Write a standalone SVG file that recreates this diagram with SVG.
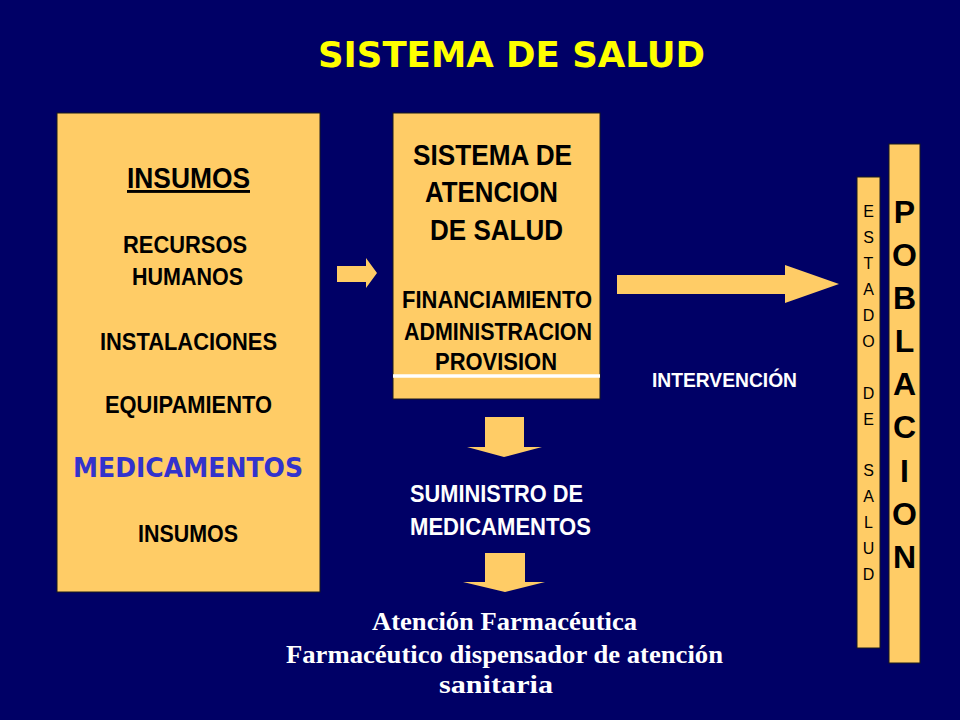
<svg xmlns="http://www.w3.org/2000/svg" width="960" height="720" viewBox="0 0 960 720">
  <style>
    .box { fill: #FFCC66; stroke: #1a1a1a; stroke-width: 1; }
    .arrow { fill: #FFCC66; }
    .t { font-family: "Liberation Sans", Arial, sans-serif; font-weight: bold; fill: #000; text-anchor: middle; }
    .v { font-family: "Liberation Sans", Arial, sans-serif; fill: #000; text-anchor: middle; font-size: 16px; }
    .w { font-family: "Liberation Sans", Arial, sans-serif; font-weight: bold; fill: #FFFFFF; }
    .serif { font-family: "Liberation Serif", "Times New Roman", serif; font-weight: bold; fill: #FFFFFF; text-anchor: middle; font-size: 26px; }
    .comic { font-family: "DejaVu Sans", "Liberation Sans", sans-serif; font-weight: bold; }
  </style>
  <rect x="0" y="0" width="960" height="720" fill="#000066"/>

  <g id="title">
    <text class="comic" x="318" y="67" font-size="36" fill="#FFFF00" textLength="387" lengthAdjust="spacingAndGlyphs">SISTEMA DE SALUD</text>
  </g>

  <g id="insumos">
    <rect class="box" x="57" y="113" width="263" height="479"/>
    <text class="t" x="188.5" y="188" font-size="29" textLength="123" lengthAdjust="spacingAndGlyphs" text-decoration="underline">INSUMOS</text>
    <text class="t" x="185" y="253" font-size="23" textLength="124" lengthAdjust="spacingAndGlyphs">RECURSOS</text>
    <text class="t" x="187.5" y="285" font-size="23" textLength="111" lengthAdjust="spacingAndGlyphs">HUMANOS</text>
    <text class="t" x="188.5" y="350" font-size="23" textLength="177" lengthAdjust="spacingAndGlyphs">INSTALACIONES</text>
    <text class="t" x="188.5" y="413" font-size="23" textLength="167" lengthAdjust="spacingAndGlyphs">EQUIPAMIENTO</text>
    <text class="comic" x="73" y="477" font-size="27" fill="#3333CC" textLength="230" lengthAdjust="spacingAndGlyphs">MEDICAMENTOS</text>
    <text class="t" x="188" y="542" font-size="23" textLength="100" lengthAdjust="spacingAndGlyphs">INSUMOS</text>
  </g>

  <g id="sistema-atencion">
    <rect class="box" x="393" y="113" width="207" height="286"/>
    <text class="t" x="492.5" y="165" font-size="30" textLength="159" lengthAdjust="spacingAndGlyphs">SISTEMA DE</text>
    <text class="t" x="491.5" y="202" font-size="30" textLength="133" lengthAdjust="spacingAndGlyphs">ATENCION</text>
    <text class="t" x="496.5" y="240" font-size="30" textLength="133" lengthAdjust="spacingAndGlyphs">DE SALUD</text>
    <text class="t" x="497" y="308" font-size="23" textLength="190" lengthAdjust="spacingAndGlyphs">FINANCIAMIENTO</text>
    <text class="t" x="498" y="340" font-size="23" textLength="188" lengthAdjust="spacingAndGlyphs">ADMINISTRACION</text>
    <text class="t" x="496" y="370" font-size="23" textLength="122" lengthAdjust="spacingAndGlyphs">PROVISION</text>
    <line x1="393" y1="376" x2="600" y2="376" stroke="#FFFFFF" stroke-width="3.5"/>
  </g>

  <g id="estado-de-salud">
    <rect class="box" x="857" y="177" width="23" height="471"/>
    <g class="v">
      <text x="868.5" y="217">E</text>
      <text x="868.5" y="243">S</text>
      <text x="868.5" y="269">T</text>
      <text x="868.5" y="295">A</text>
      <text x="868.5" y="321">D</text>
      <text x="868.5" y="347">O</text>
      <text x="868.5" y="399">D</text>
      <text x="868.5" y="425">E</text>
      <text x="868.5" y="476">S</text>
      <text x="868.5" y="502">A</text>
      <text x="868.5" y="528">L</text>
      <text x="868.5" y="554">U</text>
      <text x="868.5" y="580">D</text>
    </g>
  </g>

  <g id="poblacion">
    <rect class="box" x="889" y="144" width="31" height="519"/>
    <g class="t" font-size="32">
      <text x="904.5" y="223">P</text>
      <text x="904.5" y="266">O</text>
      <text x="904.5" y="309">B</text>
      <text x="904.5" y="352">L</text>
      <text x="904.5" y="395">A</text>
      <text x="904.5" y="438">C</text>
      <text x="904.5" y="482">I</text>
      <text x="904.5" y="525">O</text>
      <text x="904.5" y="568">N</text>
    </g>
  </g>

  <g id="suministro">
    <text class="w" x="410" y="502" font-size="23" textLength="173" lengthAdjust="spacingAndGlyphs">SUMINISTRO DE</text>
    <text class="w" x="410" y="535" font-size="23" textLength="181" lengthAdjust="spacingAndGlyphs">MEDICAMENTOS</text>
  </g>

  <g id="intervencion">
    <text class="w" x="652" y="387" font-size="20.5" textLength="145" lengthAdjust="spacingAndGlyphs">INTERVENCIÓN</text>
  </g>

  <g id="atencion-farmaceutica">
    <text class="serif" x="504.5" y="630" textLength="265" lengthAdjust="spacingAndGlyphs">Atención Farmacéutica</text>
    <text class="serif" x="504.5" y="663" textLength="437" lengthAdjust="spacingAndGlyphs">Farmacéutico dispensador de atención</text>
    <text class="serif" x="496" y="693" textLength="114" lengthAdjust="spacingAndGlyphs">sanitaria</text>
  </g>

  <g id="connectors">
    <polygon class="arrow" points="337,266 366,266 366,258 377,273 366,288 366,282 337,282"/>
    <polygon class="arrow" points="617,275 785,275 785,265 839,284 785,303 785,294 617,294"/>
    <polygon class="arrow" points="485,417 524,417 524,447 542,447 504,457 467,447 485,447"/>
    <polygon class="arrow" points="485,553 525,553 525,582 545,582 505,592 463,582 485,582"/>
  </g>
</svg>
